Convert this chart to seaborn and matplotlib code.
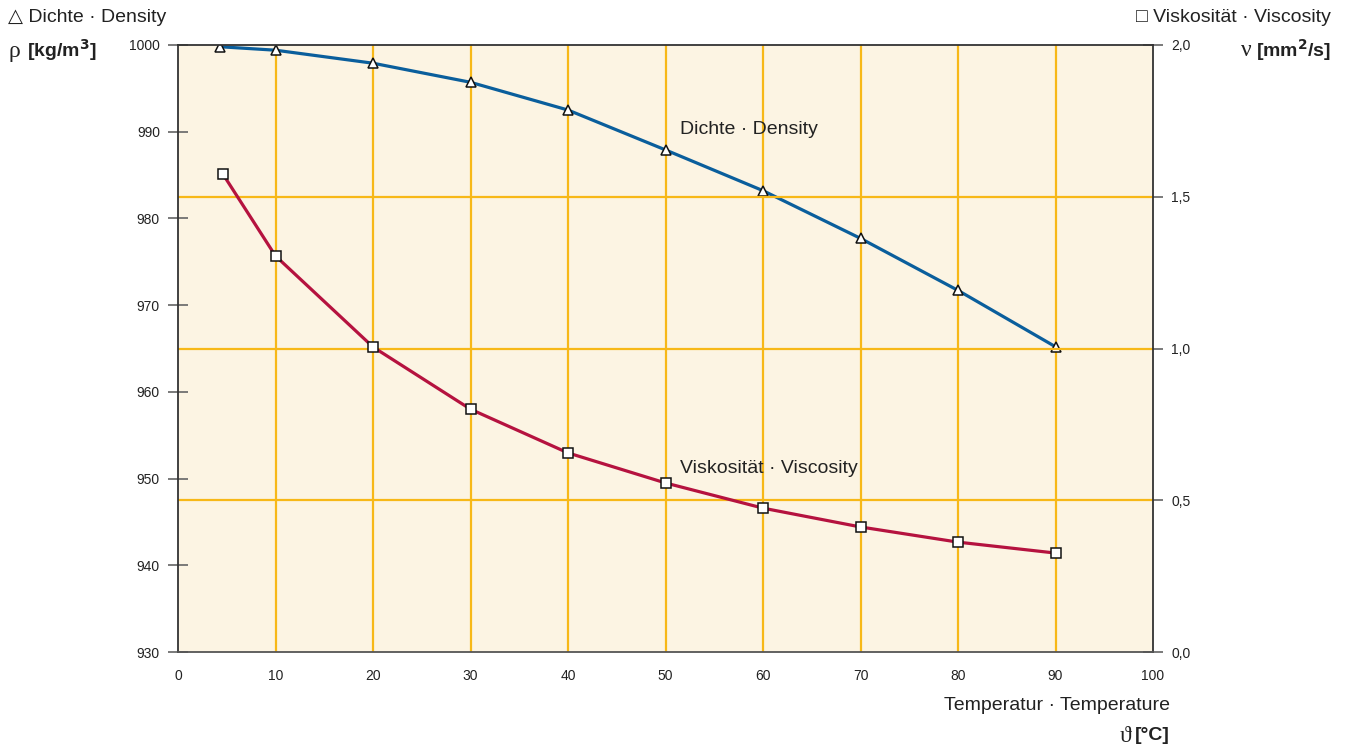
import matplotlib
matplotlib.use("Agg")
import matplotlib.pyplot as plt
from matplotlib import font_manager
import seaborn as sns
import pandas as pd

# Water properties vs temperature
dens_temp = [4.3, 10, 20, 30, 40, 50, 60, 70, 80, 90]
density = [999.8, 999.4, 997.9, 995.7, 992.5, 987.9, 983.2, 977.7, 971.7, 965.2]
visc_temp = [4.6, 10, 20, 30, 40, 50, 60, 70, 80, 90]
viscosity = [1.575, 1.305, 1.005, 0.80, 0.656, 0.557, 0.474, 0.412, 0.362, 0.326]

x_ticks = [0, 10, 20, 30, 40, 50, 60, 70, 80, 90, 100]
rho_ticks = [930, 940, 950, 960, 970, 980, 990, 1000]
nu_ticks = [0.0, 0.5, 1.0, 1.5, 2.0]
nu_labels = ["0,0", "0,5", "1,0", "1,5", "2,0"]

sns.set_theme(style="white")
names = {f.name for f in font_manager.fontManager.ttflist}
base = "Liberation Sans Narrow" if "Liberation Sans Narrow" in names else "Liberation Sans"
plt.rcParams["font.family"] = [base, "DejaVu Sans"]
SERIF = ["Liberation Serif", "DejaVu Serif"]

BG = "#FCF4E3"
GRID = "#F7B818"
BLUE = "#0A5E9C"
RED = "#B5123F"
TXT = "#222222"
TICK = "#707070"
FS = 14

fig = plt.figure(figsize=(13.46, 7.52), dpi=100)
ax = fig.add_axes([178 / 1346, 1 - 652 / 752, 975 / 1346, 607 / 752])
ax.set_facecolor(BG)
ax2 = ax.twinx()

df_d = pd.DataFrame({"t": dens_temp, "rho": density})
df_v = pd.DataFrame({"t": visc_temp, "nu": viscosity})

ax.set_xlim(0, 100)
ax.set_ylim(930, 1000)
ax2.set_ylim(0, 2.0)

# grid: verticals on x ticks, horizontals on viscosity ticks
for xv in x_ticks[1:-1]:
    ax.axvline(xv, color=GRID, lw=1.6, zorder=1)
for yv in nu_ticks[1:-1]:
    ax2.axhline(yv, color=GRID, lw=1.6, zorder=1)

sns.lineplot(data=df_d, x="t", y="rho", ax=ax, color=BLUE, lw=2.3, zorder=3,
             marker="^", markersize=6.5, markerfacecolor="white",
             markeredgecolor="#111111", markeredgewidth=1.1, legend=False)
sns.lineplot(data=df_v, x="t", y="nu", ax=ax2, color=RED, lw=2.3, zorder=3,
             marker="s", markersize=6.5, markerfacecolor="white",
             markeredgecolor="#111111", markeredgewidth=1.1, legend=False)

ax.set_xticks(x_ticks)
ax.set_xticklabels([str(v) for v in x_ticks])
ax.set_yticks(rho_ticks)
ax.set_yticklabels([str(v) for v in rho_ticks])
ax2.set_yticks(nu_ticks)
ax2.set_yticklabels(nu_labels)
ax.set_xlabel("")
ax.set_ylabel("")
ax2.set_xlabel("")
ax2.set_ylabel("")

for a in (ax, ax2):
    a.tick_params(axis="both", direction="inout", length=14, width=1.3,
                  color=TICK, labelsize=10, labelcolor=TXT, pad=6)
ax.tick_params(axis="y", pad=6)
ax.tick_params(axis="x", pad=5)
for sp in ("left", "right", "top", "bottom"):
    ax.spines[sp].set_visible(False)
    ax2.spines[sp].set_visible(True)
    ax2.spines[sp].set_color("#333333")
    ax2.spines[sp].set_linewidth(1.3)
ax2.spines["bottom"].set_color("#555555")
ax.set_zorder(0)
ax2.set_zorder(1)
ax2.patch.set_visible(False)

# curve labels
ax.text(51.5, 990.3, "Dichte · Density", fontsize=FS, color=TXT, va="center", ha="left")
ax.text(51.5, 951.2, "Viskosität · Viscosity", fontsize=FS, color=TXT, va="center", ha="left")

# axis titles
fig.text(8 / 1346, 1 - 18 / 752, "△ Dichte · Density", fontsize=FS, color=TXT,
         va="center", ha="left", family=[base, "DejaVu Sans"])
fig.text(8 / 1346, 1 - 52 / 752, "ρ", fontsize=17, color=TXT, va="center", ha="left",
         family=SERIF)
fig.text(27 / 1346, 1 - 50 / 752, r"[kg/m$^{\mathbf{3}}$]", fontsize=FS, color=TXT,
         va="center", ha="left", fontweight="bold")
fig.text(1331 / 1346, 1 - 18 / 752, "□ Viskosität · Viscosity", fontsize=FS, color=TXT,
         va="center", ha="right", family=[base, "DejaVu Sans"])
fig.text(1331 / 1346, 1 - 50 / 752, r"[mm$^{\mathbf{2}}$/s]", fontsize=FS, color=TXT,
         va="center", ha="right", fontweight="bold")
fig.text(1252 / 1346, 1 - 51 / 752, "ν", fontsize=17, color=TXT, va="center", ha="right",
         family=SERIF)
fig.text(1170 / 1346, 1 - 705 / 752, "Temperatur · Temperature", fontsize=FS, color=TXT,
         va="center", ha="right")
fig.text(1170 / 1346, 1 - 736 / 752, "[°C]", fontsize=FS, color=TXT,
         va="center", ha="right", fontweight="bold")
fig.text(1131 / 1346, 1 - 736 / 752, "ϑ", fontsize=17, color=TXT, va="center", ha="right",
         family=SERIF)

fig.savefig("out.png", dpi=100, facecolor="white")
